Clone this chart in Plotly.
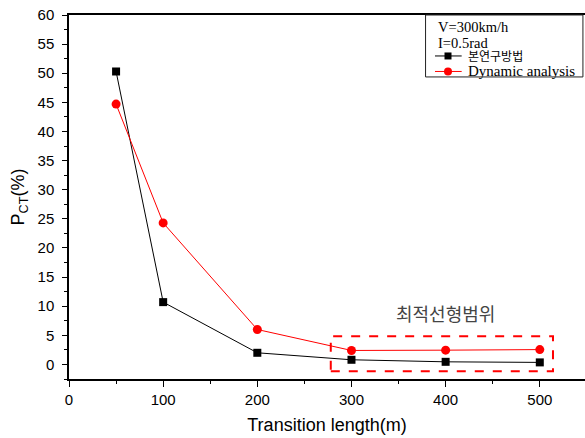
import plotly.graph_objects as go

x_len = [50, 100, 200, 300, 400, 500]
p_method = [50.3, 10.7, 2.0, 0.8, 0.45, 0.35]
p_dynamic = [44.7, 24.3, 6.0, 2.4, 2.45, 2.55]
name_method = "본연구방법"
name_dynamic = "Dynamic analysis"
legend_lines = ["V=300km/h", "I=0.5rad"]
range_label = "최적선형범위"
box_x = [278, 514]
box_y = [-1.15, 4.85]

fig = go.Figure()
fig.add_trace(go.Scatter(x=x_len, y=p_method, name=name_method, mode="lines+markers",
                         line=dict(color="black", width=1),
                         marker=dict(symbol="square", size=8, color="black")))
fig.add_trace(go.Scatter(x=x_len, y=p_dynamic, name=name_dynamic, mode="lines+markers",
                         line=dict(color="red", width=1),
                         marker=dict(symbol="circle", size=9, color="red")))

# optimal range box and label
fig.add_shape(type="rect", x0=box_x[0], x1=box_x[1], y0=box_y[0], y1=box_y[1],
              line=dict(color="red", width=2, dash="dash"))
fig.add_annotation(x=400, y=8.8, text=range_label, showarrow=False,
                   font=dict(family="Noto Sans CJK KR", size=18, color="#444"))

# manual legend (paper coordinates)
def py(pix):
    return (379.3 - pix) / 364.3

lx0, lx1, ly0, ly1 = 0.691, 0.996, py(77), 1.0
fig.add_shape(type="rect", xref="paper", yref="paper", x0=lx0, x1=lx1, y0=ly0, y1=ly1,
              line=dict(color="#222", width=1), fillcolor="white", layer="above")
serif = "Liberation Serif, Times New Roman, serif"
for txt, yy in zip(legend_lines, [py(27.3), py(43)]):
    fig.add_annotation(xref="paper", yref="paper", x=0.7126, y=yy, xanchor="left", yanchor="middle",
                       text=txt, showarrow=False, borderpad=0,
                       font=dict(family=serif, size=14.5, color="black"))
entries = [(name_method, "black", "square", py(56), "Noto Sans CJK KR", 12),
           (name_dynamic, "red", "circle", py(71.5), serif, 15)]
for name, col, sym, yy, fam, fs in entries:
    fig.add_shape(type="line", xref="paper", yref="paper", x0=0.7093, x1=0.7610, y0=yy, y1=yy,
                  line=dict(color=col, width=1), layer="above")
    half = 3.5 if sym == "square" else 4
    fig.add_shape(type="rect" if sym == "square" else "circle", xref="paper", yref="paper",
                  xsizemode="pixel", ysizemode="pixel", xanchor=0.7345, yanchor=yy,
                  x0=-half, x1=half, y0=-half, y1=half,
                  line=dict(color=col, width=0), fillcolor=col, layer="above")
    fig.add_annotation(xref="paper", yref="paper", x=0.7707, y=yy, xanchor="left", yanchor="middle",
                       text=name, showarrow=False, borderpad=0,
                       font=dict(family=fam, size=fs, color="black"))

fig.update_layout(
    width=585, height=438,
    margin=dict(l=69, r=0, t=15, b=59, autoexpand=False),
    paper_bgcolor="white", plot_bgcolor="white",
    font=dict(family="Liberation Sans, Arial", color="black"),
    showlegend=False,
)
fig.update_xaxes(range=[0, 548], dtick=100, tick0=0, showgrid=False, zeroline=False,
                 automargin=False,
                 showline=True, linecolor="black", linewidth=1.5, mirror=True,
                 ticks="outside", ticklen=6, tickwidth=1, tickcolor="black",
                 minor=dict(dtick=50, ticks="outside", ticklen=3, tickcolor="black"),
                 tickfont=dict(size=15),
                 title=dict(text="Transition length(m)", font=dict(size=18), standoff=12))
fig.update_yaxes(range=[-2.5, 60], dtick=5, tick0=0, showgrid=False, zeroline=False,
                 automargin=False,
                 showline=True, linecolor="black", linewidth=1.5, mirror=True,
                 ticks="outside", ticklen=5, tickwidth=1, tickcolor="black",
                 ticklabelstandoff=5,
                 minor=dict(dtick=2.5, ticks="outside", ticklen=3, tickcolor="black"),
                 tickfont=dict(size=15),
                 title=dict(text="P<sub>CT</sub>(%)", font=dict(size=18), standoff=8))

fig.write_html("out.html", config={"displayModeBar": False},
               post_script="document.body.style.margin='0';document.body.style.overflow='hidden';")
